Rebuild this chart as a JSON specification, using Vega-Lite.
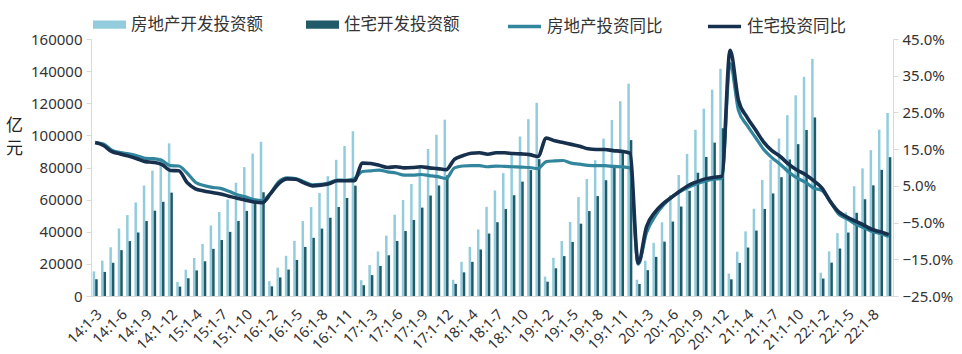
{
  "$schema": "https://vega.github.io/schema/vega-lite/v6.json",
  "width": 802,
  "height": 257,
  "autosize": "none",
  "padding": {"left": 91, "top": 39, "right": 69, "bottom": 58},
  "background": "white",
  "config": {
    "view": {"stroke": null},
    "axis": {"labelFont": "Noto Sans", "labelFontSize": 15, "labelColor": "#333333", "domainColor": "#d9d9d9", "tickColor": "#d9d9d9", "grid": false},
    "legend": {"labelFont": "Noto Sans CJK SC", "labelFontSize": 16.5, "labelColor": "#333333"}
  },
  "data": {"values": [
    {"m":"14:1-3","房地产开发投资额":15339,"住宅开发投资额":10448,"ty":16.8,"ry":16.8},
    {"m":"14:1-4","房地产开发投资额":21974,"住宅开发投资额":14997,"ty":16.4,"ry":16.0},
    {"m":"14:1-5","房地产开发投资额":30339,"住宅开发投资额":20660,"ty":14.7,"ry":14.3},
    {"m":"14:1-6","房地产开发投资额":42019,"住宅开发投资额":28556,"ty":14.1,"ry":13.7},
    {"m":"14:1-7","房地产开发投资额":50388,"住宅开发投资额":34185,"ty":13.7,"ry":13.1},
    {"m":"14:1-8","房地产开发投资额":58248,"住宅开发投资额":39552,"ty":13.2,"ry":12.4},
    {"m":"14:1-9","房地产开发投资额":68751,"住宅开发投资额":46661,"ty":12.5,"ry":11.6},
    {"m":"14:1-10","房地产开发投资额":78069,"住宅开发投资额":53104,"ty":12.4,"ry":11.4},
    {"m":"14:1-11","房地产开发投资额":86013,"住宅开发投资额":58648,"ty":11.9,"ry":10.8},
    {"m":"14:1-12","房地产开发投资额":95036,"住宅开发投资额":64352,"ty":10.5,"ry":9.2},
    {"m":"15:1-2","房地产开发投资额":8786,"住宅开发投资额":5846,"ty":10.4,"ry":9.1},
    {"m":"15:1-3","房地产开发投资额":16361,"住宅开发投资额":11043,"ty":8.5,"ry":5.9},
    {"m":"15:1-4","房地产开发投资额":23669,"住宅开发投资额":15924,"ty":6.0,"ry":4.2},
    {"m":"15:1-5","房地产开发投资额":32450,"住宅开发投资额":21614,"ty":5.1,"ry":3.6},
    {"m":"15:1-6","房地产开发投资额":43955,"住宅开发投资额":29362,"ty":4.6,"ry":3.2},
    {"m":"15:1-7","房地产开发投资额":52328,"住宅开发投资额":34846,"ty":4.3,"ry":2.8},
    {"m":"15:1-8","房地产开发投资额":60120,"住宅开发投资额":39933,"ty":3.5,"ry":2.2},
    {"m":"15:1-9","房地产开发投资额":70535,"住宅开发投资额":46673,"ty":2.6,"ry":1.6},
    {"m":"15:1-10","房地产开发投资额":80256,"住宅开发投资额":52974,"ty":2.0,"ry":1.1},
    {"m":"15:1-11","房地产开发投资额":88658,"住宅开发投资额":58341,"ty":1.3,"ry":0.6},
    {"m":"15:1-12","房地产开发投资额":95979,"住宅开发投资额":64595,"ty":1.0,"ry":0.4},
    {"m":"16:1-2","房地产开发投资额":9236,"住宅开发投资额":6017,"ty":3.0,"ry":2.9},
    {"m":"16:1-3","房地产开发投资额":17677,"住宅开发投资额":11564,"ty":6.2,"ry":5.7},
    {"m":"16:1-4","房地产开发投资额":25042,"住宅开发投资额":16453,"ty":7.2,"ry":6.9},
    {"m":"16:1-5","房地产开发投资额":34343,"住宅开发投资额":22416,"ty":7.0,"ry":6.8},
    {"m":"16:1-6","房地产开发投资额":46631,"住宅开发投资额":30545,"ty":6.1,"ry":5.8},
    {"m":"16:1-7","房地产开发投资额":55358,"住宅开发投资额":36226,"ty":5.3,"ry":5.0},
    {"m":"16:1-8","房地产开发投资额":64124,"住宅开发投资额":41956,"ty":5.4,"ry":5.2},
    {"m":"16:1-9","房地产开发投资额":74598,"住宅开发投资额":48734,"ty":5.8,"ry":5.6},
    {"m":"16:1-10","房地产开发投资额":84773,"住宅开发投资额":55430,"ty":6.6,"ry":6.4},
    {"m":"16:1-11","房地产开发投资额":93387,"住宅开发投资额":61063,"ty":6.5,"ry":6.4},
    {"m":"16:1-12","房地产开发投资额":102581,"住宅开发投资额":68704,"ty":6.9,"ry":6.4},
    {"m":"17:1-2","房地产开发投资额":9854,"住宅开发投资额":6694,"ty":8.9,"ry":11.2},
    {"m":"17:1-3","房地产开发投资额":19292,"住宅开发投资额":13014,"ty":9.1,"ry":11.1},
    {"m":"17:1-4","房地产开发投资额":27732,"住宅开发投资额":18703,"ty":9.3,"ry":10.6},
    {"m":"17:1-5","房地产开发投资额":37594,"住宅开发投资额":25349,"ty":8.8,"ry":10.0},
    {"m":"17:1-6","房地产开发投资额":50610,"住宅开发投资额":34239,"ty":8.5,"ry":10.2},
    {"m":"17:1-7","房地产开发投资额":59761,"住宅开发投资额":40439,"ty":7.9,"ry":9.9},
    {"m":"17:1-8","房地产开发投资额":69694,"住宅开发投资额":47312,"ty":7.9,"ry":10.0},
    {"m":"17:1-9","房地产开发投资额":80644,"住宅开发投资额":55030,"ty":8.1,"ry":10.2},
    {"m":"17:1-10","房地产开发投资额":91533,"住宅开发投资额":62526,"ty":7.8,"ry":9.9},
    {"m":"17:1-11","房地产开发投资额":100387,"住宅开发投资额":68818,"ty":7.5,"ry":9.7},
    {"m":"17:1-12","房地产开发投资额":109799,"住宅开发投资额":75148,"ty":7.0,"ry":9.4},
    {"m":"18:1-2","房地产开发投资额":10073,"住宅开发投资额":7557,"ty":9.9,"ry":12.2},
    {"m":"18:1-3","房地产开发投资额":21291,"住宅开发投资额":14722,"ty":10.4,"ry":13.2},
    {"m":"18:1-4","房地产开发投资额":30592,"住宅开发投资额":21267,"ty":10.5,"ry":13.9},
    {"m":"18:1-5","房地产开发投资额":41451,"住宅开发投资额":28950,"ty":10.5,"ry":14.0},
    {"m":"18:1-6","房地产开发投资额":55531,"住宅开发投资额":38896,"ty":10.2,"ry":13.6},
    {"m":"18:1-7","房地产开发投资额":65744,"住宅开发投资额":45939,"ty":10.4,"ry":14.0},
    {"m":"18:1-8","房地产开发投资额":76519,"住宅开发投资额":54125,"ty":10.3,"ry":14.0},
    {"m":"18:1-9","房地产开发投资额":88367,"住宅开发投资额":62734,"ty":10.2,"ry":13.8},
    {"m":"18:1-10","房地产开发投资额":99325,"住宅开发投资额":71218,"ty":10.1,"ry":13.7},
    {"m":"18:1-11","房地产开发投资额":110083,"住宅开发投资额":78394,"ty":10.0,"ry":13.5},
    {"m":"18:1-12","房地产开发投资额":120264,"住宅开发投资额":85192,"ty":9.7,"ry":13.0},
    {"m":"19:1-2","房地产开发投资额":12090,"住宅开发投资额":8917,"ty":11.6,"ry":18.0},
    {"m":"19:1-3","房地产开发投资额":23803,"住宅开发投资额":17269,"ty":11.8,"ry":17.3},
    {"m":"19:1-4","房地产开发投资额":34217,"住宅开发投资额":24840,"ty":11.9,"ry":16.8},
    {"m":"19:1-5","房地产开发投资额":46075,"住宅开发投资额":33669,"ty":11.2,"ry":16.3},
    {"m":"19:1-6","房地产开发投资额":61609,"住宅开发投资额":45040,"ty":10.9,"ry":15.8},
    {"m":"19:1-7","房地产开发投资额":72843,"住宅开发投资额":52876,"ty":10.6,"ry":15.1},
    {"m":"19:1-8","房地产开发投资额":84589,"住宅开发投资额":62190,"ty":10.5,"ry":14.9},
    {"m":"19:1-9","房地产开发投资额":98008,"住宅开发投资额":72080,"ty":10.5,"ry":14.9},
    {"m":"19:1-10","房地产开发投资额":109603,"住宅开发投资额":81616,"ty":10.3,"ry":14.6},
    {"m":"19:1-11","房地产开发投资额":121265,"住宅开发投资额":89693,"ty":10.2,"ry":14.4},
    {"m":"19:1-12","房地产开发投资额":132194,"住宅开发投资额":97071,"ty":9.9,"ry":13.9},
    {"m":"20:1-2","房地产开发投资额":10115,"住宅开发投资额":7490,"ty":-16.3,"ry":-16.0},
    {"m":"20:1-3","房地产开发投资额":21963,"住宅开发投资额":16081,"ty":-7.7,"ry":-6.1},
    {"m":"20:1-4","房地产开发投资额":33103,"住宅开发投资额":24369,"ty":-3.3,"ry":-2.2},
    {"m":"20:1-5","房地产开发投资额":45920,"住宅开发投资额":33847,"ty":-0.3,"ry":0.2},
    {"m":"20:1-6","房地产开发投资额":62780,"住宅开发投资额":46350,"ty":1.9,"ry":1.9},
    {"m":"20:1-7","房地产开发投资额":75325,"住宅开发投资额":55713,"ty":3.4,"ry":3.6},
    {"m":"20:1-8","房地产开发投资额":88454,"住宅开发投资额":65454,"ty":4.6,"ry":5.1},
    {"m":"20:1-9","房地产开发投资额":103484,"住宅开发投资额":76751,"ty":5.6,"ry":6.1},
    {"m":"20:1-10","房地产开发投资额":116556,"住宅开发投资额":86568,"ty":6.3,"ry":6.9},
    {"m":"20:1-11","房地产开发投资额":128492,"住宅开发投资额":95484,"ty":6.8,"ry":7.3},
    {"m":"20:1-12","房地产开发投资额":141443,"住宅开发投资额":104446,"ty":7.0,"ry":7.6},
    {"m":"21:1-2","房地产开发投资额":13986,"住宅开发投资额":10391,"ty":38.3,"ry":41.9},
    {"m":"21:1-3","房地产开发投资额":27576,"住宅开发投资额":20624,"ty":25.6,"ry":28.3},
    {"m":"21:1-4","房地产开发投资额":40240,"住宅开发投资额":30163,"ty":21.6,"ry":23.8},
    {"m":"21:1-5","房地产开发投资额":54318,"住宅开发投资额":40735,"ty":18.3,"ry":20.4},
    {"m":"21:1-6","房地产开发投资额":72179,"住宅开发投资额":54176,"ty":15.0,"ry":17.0},
    {"m":"21:1-7","房地产开发投资额":84895,"住宅开发投资额":63845,"ty":12.7,"ry":14.6},
    {"m":"21:1-8","房地产开发投资额":98060,"住宅开发投资额":73960,"ty":10.9,"ry":13.0},
    {"m":"21:1-9","房地产开发投资额":112568,"住宅开发投资额":85012,"ty":8.8,"ry":10.9},
    {"m":"21:1-10","房地产开发投资额":124934,"住宅开发投资额":94541,"ty":7.2,"ry":9.3},
    {"m":"21:1-11","房地产开发投资额":136443,"住宅开发投资额":103363,"ty":6.0,"ry":8.1},
    {"m":"21:1-12","房地产开发投资额":147602,"住宅开发投资额":111173,"ty":4.4,"ry":6.4},
    {"m":"22:1-2","房地产开发投资额":14499,"住宅开发投资额":10853,"ty":3.7,"ry":4.4},
    {"m":"22:1-3","房地产开发投资额":27765,"住宅开发投资额":20761,"ty":0.7,"ry":0.7},
    {"m":"22:1-4","房地产开发投资额":39154,"住宅开发投资额":29556,"ty":-2.7,"ry":-2.1},
    {"m":"22:1-5","房地产开发投资额":52134,"住宅开发投资额":39521,"ty":-4.0,"ry":-3.5},
    {"m":"22:1-6","房地产开发投资额":68314,"住宅开发投资额":51804,"ty":-5.4,"ry":-4.6},
    {"m":"22:1-7","房地产开发投资额":79462,"住宅开发投资额":60232,"ty":-6.4,"ry":-5.7},
    {"m":"22:1-8","房地产开发投资额":90809,"住宅开发投资额":68878,"ty":-7.4,"ry":-6.9},
    {"m":"22:1-9","房地产开发投资额":103559,"住宅开发投资额":78556,"ty":-8.0,"ry":-7.5},
    {"m":"22:1-10","房地产开发投资额":113945,"住宅开发投资额":86410,"ty":-8.8,"ry":-8.3}
  ]},
  "encoding": {
    "x": {
      "field": "m", "type": "nominal", "sort": null, "title": null,
      "scale": {"paddingInner": 0.4, "paddingOuter": 0.2},
      "axis": {
        "values": ["14:1-3","14:1-6","14:1-9","14:1-12","15:1-4","15:1-7","15:1-10","16:1-2","16:1-5","16:1-8","16:1-11","17:1-3","17:1-6","17:1-9","17:1-12","18:1-4","18:1-7","18:1-10","19:1-2","19:1-5","19:1-8","19:1-11","20:1-3","20:1-6","20:1-9","20:1-12","21:1-4","21:1-7","21:1-10","22:1-2","22:1-5","22:1-8"],
        "labelAngle": -45, "labelFontSize": 14.5, "ticks": false, "labelPadding": 11, "domainColor": "#d9d9d9"
      }
    }
  },
  "layer": [
    {
      "transform": [{"fold": ["房地产开发投资额", "住宅开发投资额"], "as": ["series", "value"]}],
      "mark": {"type": "bar"},
      "encoding": {
        "xOffset": {"field": "series", "sort": ["房地产开发投资额", "住宅开发投资额"]},
        "y": {
          "field": "value", "type": "quantitative",
          "scale": {"domain": [0, 160000], "nice": false},
          "axis": {"orient": "left", "values": [0,20000,40000,60000,80000,100000,120000,140000,160000], "format": "d", "tickSize": 5, "labelPadding": 4,
            "title": ["亿", "元"], "titleAngle": 0, "titleFont": "Noto Sans CJK SC", "titleFontSize": 17, "titleFontWeight": "normal", "titleColor": "#222222",
            "titleX": -77, "titleY": 86, "titleAlign": "center", "titleBaseline": "middle", "titleLineHeight": 23}
        },
        "color": {
          "field": "series", "type": "nominal",
          "scale": {"domain": ["房地产开发投资额", "住宅开发投资额"], "range": ["#93CDDD", "#215A69"]},
          "legend": {"title": null, "orient": "none", "direction": "horizontal", "legendX": 2, "legendY": -31,
            "symbolType": "M-1,-0.25H1V0.25H-1Z", "symbolSize": 1089, "symbolStrokeWidth": 0, "labelOffset": 5, "columnPadding": 43}
        }
      }
    },
    {
      "layer": [
        {
          "mark": {"type": "line", "interpolate": "monotone", "strokeWidth": 3.2},
          "encoding": {
            "y": {"field": "ty", "type": "quantitative", "scale": {"domain": [-25, 45], "nice": false},
              "axis": {"orient": "right", "title": null, "values": [-25,-15,-5,5,15,25,35,45], "labelExpr": "format(datum.value, '.1f') + '%'", "tickSize": 5, "labelPadding": 4}},
            "stroke": {"datum": "房地产投资同比", "type": "nominal",
              "scale": {"domain": ["房地产投资同比", "住宅投资同比"], "range": ["#31859C", "#17304D"]},
              "legend": {"title": null, "orient": "none", "direction": "horizontal", "legendX": 415, "legendY": -31,
                "symbolType": "stroke", "symbolSize": 1089, "symbolStrokeWidth": 3.5, "labelOffset": 4, "columnPadding": 38}}
          }
        },
        {
          "mark": {"type": "line", "interpolate": "monotone", "strokeWidth": 3.6},
          "encoding": {
            "y": {"field": "ry", "type": "quantitative", "scale": {"domain": [-25, 45], "nice": false},
              "axis": {"orient": "right", "title": null, "values": [-25,-15,-5,5,15,25,35,45], "labelExpr": "format(datum.value, '.1f') + '%'", "tickSize": 5, "labelPadding": 4}},
            "stroke": {"datum": "住宅投资同比", "type": "nominal"}
          }
        }
      ]
    }
  ],
  "resolve": {"scale": {"y": "independent"}}
}
